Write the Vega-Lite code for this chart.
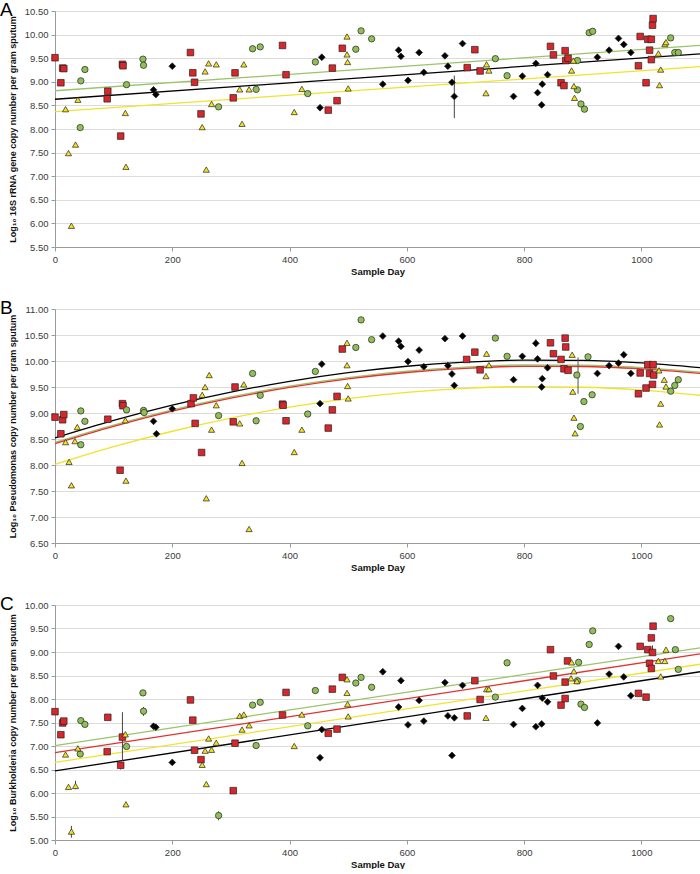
{
  "$schema": "https://vega.github.io/schema/vega-lite/v6.json",
  "padding": {"top": 1, "left": 0, "right": 0, "bottom": 0},
  "background": "white",
  "bounds": "flush",
  "spacing": 62,
  "config": {
    "view": {"stroke": null},
    "font": "Liberation Sans",
    "axis": {
      "labelFont": "Liberation Sans", "labelFontSize": 9.5, "labelColor": "#3a3a3a",
      "titleFont": "Liberation Sans", "titleFontWeight": "bold", "titleColor": "#111111",
      "domainColor": "#9a9a9a", "tickColor": "#9a9a9a", "tickSize": 4, "gridColor": "#dcdcdc",
      "labelOverlap": false, "labelFlush": false
    },
    "title": {"font": "Liberation Sans"}
  },
  "datasets": {
    "pts": [
      {"p":"A","s":"black","d":168,"v":8.83},{"p":"A","s":"black","d":172,"v":8.73},{"p":"A","s":"black","d":200,"v":9.33},{"p":"A","s":"black","d":452,"v":8.45},{"p":"A","s":"black","d":455,"v":9.52},{"p":"A","s":"black","d":559,"v":8.95},{"p":"A","s":"black","d":586,"v":9.67},{"p":"A","s":"black","d":590,"v":9.54},{"p":"A","s":"black","d":602,"v":9.03},{"p":"A","s":"black","d":621,"v":9.62},{"p":"A","s":"black","d":629,"v":9.2},{"p":"A","s":"black","d":665,"v":9.55},{"p":"A","s":"black","d":670,"v":9.33},{"p":"A","s":"black","d":677,"v":8.99},{"p":"A","s":"black","d":681,"v":8.69},{"p":"A","s":"black","d":695,"v":9.81},{"p":"A","s":"black","d":782,"v":8.69},{"p":"A","s":"black","d":797,"v":9.12},{"p":"A","s":"black","d":820,"v":9.39},{"p":"A","s":"black","d":823,"v":8.77},{"p":"A","s":"black","d":831,"v":8.95},{"p":"A","s":"black","d":830,"v":8.51},{"p":"A","s":"black","d":840,"v":9.15},{"p":"A","s":"black","d":925,"v":9.52},{"p":"A","s":"black","d":945,"v":9.67},{"p":"A","s":"black","d":961,"v":9.92},{"p":"A","s":"black","d":970,"v":9.79},{"p":"A","s":"black","d":982,"v":9.62},
      {"p":"A","s":"red","d":0,"v":9.51},{"p":"A","s":"red","d":10,"v":8.98},{"p":"A","s":"red","d":13,"v":9.29},{"p":"A","s":"red","d":15,"v":9.28},{"p":"A","s":"red","d":89,"v":8.64},{"p":"A","s":"red","d":90,"v":8.8},{"p":"A","s":"red","d":112,"v":7.85},{"p":"A","s":"red","d":115,"v":9.37},{"p":"A","s":"red","d":116,"v":9.34},{"p":"A","s":"red","d":231,"v":9.62},{"p":"A","s":"red","d":235,"v":9.19},{"p":"A","s":"red","d":238,"v":8.99},{"p":"A","s":"red","d":249,"v":8.32},{"p":"A","s":"red","d":304,"v":8.66},{"p":"A","s":"red","d":307,"v":9.19},{"p":"A","s":"red","d":388,"v":9.77},{"p":"A","s":"red","d":394,"v":9.15},{"p":"A","s":"red","d":466,"v":8.4},{"p":"A","s":"red","d":473,"v":9.29},{"p":"A","s":"red","d":481,"v":8.6},{"p":"A","s":"red","d":490,"v":9.71},{"p":"A","s":"red","d":703,"v":9.3},{"p":"A","s":"red","d":716,"v":9.68},{"p":"A","s":"red","d":725,"v":9.23},{"p":"A","s":"red","d":845,"v":9.75},{"p":"A","s":"red","d":850,"v":9.57},{"p":"A","s":"red","d":863,"v":8.98},{"p":"A","s":"red","d":868,"v":8.92},{"p":"A","s":"red","d":870,"v":9.66},{"p":"A","s":"red","d":871,"v":9.45},{"p":"A","s":"red","d":875,"v":9.5},{"p":"A","s":"red","d":995,"v":9.34},{"p":"A","s":"red","d":998,"v":9.96},{"p":"A","s":"red","d":1008,"v":8.98},{"p":"A","s":"red","d":1011,"v":9.9},{"p":"A","s":"red","d":1014,"v":9.67},{"p":"A","s":"red","d":1017,"v":9.9},{"p":"A","s":"red","d":1017,"v":9.47},{"p":"A","s":"red","d":1019,"v":10.2},{"p":"A","s":"red","d":1020,"v":10.34},
      {"p":"A","s":"green","d":43,"v":8.03},{"p":"A","s":"green","d":44,"v":9.02},{"p":"A","s":"green","d":51,"v":9.26},{"p":"A","s":"green","d":122,"v":8.94},{"p":"A","s":"green","d":150,"v":9.48},{"p":"A","s":"green","d":151,"v":9.35},{"p":"A","s":"green","d":279,"v":8.47},{"p":"A","s":"green","d":337,"v":9.7},{"p":"A","s":"green","d":343,"v":8.84},{"p":"A","s":"green","d":350,"v":9.74},{"p":"A","s":"green","d":431,"v":8.75},{"p":"A","s":"green","d":444,"v":9.42},{"p":"A","s":"green","d":513,"v":9.69},{"p":"A","s":"green","d":522,"v":10.08},{"p":"A","s":"green","d":540,"v":9.91},{"p":"A","s":"green","d":751,"v":9.49},{"p":"A","s":"green","d":771,"v":9.13},{"p":"A","s":"green","d":891,"v":9.45},{"p":"A","s":"green","d":891,"v":8.83},{"p":"A","s":"green","d":897,"v":8.53},{"p":"A","s":"green","d":903,"v":8.42},{"p":"A","s":"green","d":911,"v":10.04},{"p":"A","s":"green","d":917,"v":10.07},{"p":"A","s":"green","d":1050,"v":9.93},{"p":"A","s":"green","d":1057,"v":9.62},{"p":"A","s":"green","d":1063,"v":9.62},
      {"p":"A","s":"yellow","d":18,"v":8.42},{"p":"A","s":"yellow","d":23,"v":7.49},{"p":"A","s":"yellow","d":28,"v":5.95},{"p":"A","s":"yellow","d":35,"v":7.67},{"p":"A","s":"yellow","d":39,"v":8.62},{"p":"A","s":"yellow","d":120,"v":8.34},{"p":"A","s":"yellow","d":121,"v":7.2},{"p":"A","s":"yellow","d":251,"v":8.04},{"p":"A","s":"yellow","d":256,"v":9.22},{"p":"A","s":"yellow","d":258,"v":7.14},{"p":"A","s":"yellow","d":262,"v":9.39},{"p":"A","s":"yellow","d":267,"v":8.53},{"p":"A","s":"yellow","d":275,"v":9.37},{"p":"A","s":"yellow","d":315,"v":8.84},{"p":"A","s":"yellow","d":319,"v":8.11},{"p":"A","s":"yellow","d":322,"v":9.37},{"p":"A","s":"yellow","d":331,"v":8.84},{"p":"A","s":"yellow","d":408,"v":8.36},{"p":"A","s":"yellow","d":421,"v":8.85},{"p":"A","s":"yellow","d":498,"v":9.96},{"p":"A","s":"yellow","d":498,"v":9.58},{"p":"A","s":"yellow","d":499,"v":9.42},{"p":"A","s":"yellow","d":500,"v":8.86},{"p":"A","s":"yellow","d":735,"v":8.76},{"p":"A","s":"yellow","d":736,"v":9.37},{"p":"A","s":"yellow","d":740,"v":9.24},{"p":"A","s":"yellow","d":881,"v":9.24},{"p":"A","s":"yellow","d":884,"v":9.45},{"p":"A","s":"yellow","d":885,"v":8.91},{"p":"A","s":"yellow","d":886,"v":8.66},{"p":"A","s":"yellow","d":1029,"v":9.6},{"p":"A","s":"yellow","d":1031,"v":8.93},{"p":"A","s":"yellow","d":1033,"v":9.26},{"p":"A","s":"yellow","d":1040,"v":9.8},{"p":"A","s":"yellow","d":1042,"v":9.84},

      {"p":"B","s":"black","d":168,"v":8.84},{"p":"B","s":"black","d":173,"v":8.6},{"p":"B","s":"black","d":200,"v":9.08},{"p":"B","s":"black","d":452,"v":9.18},{"p":"B","s":"black","d":455,"v":9.94},{"p":"B","s":"black","d":559,"v":10.48},{"p":"B","s":"black","d":586,"v":10.38},{"p":"B","s":"black","d":590,"v":10.28},{"p":"B","s":"black","d":602,"v":9.99},{"p":"B","s":"black","d":621,"v":10.21},{"p":"B","s":"black","d":629,"v":9.89},{"p":"B","s":"black","d":665,"v":10.43},{"p":"B","s":"black","d":670,"v":9.91},{"p":"B","s":"black","d":677,"v":9.75},{"p":"B","s":"black","d":681,"v":9.53},{"p":"B","s":"black","d":695,"v":10.48},{"p":"B","s":"black","d":782,"v":9.64},{"p":"B","s":"black","d":797,"v":10.09},{"p":"B","s":"black","d":820,"v":10.34},{"p":"B","s":"black","d":823,"v":10.04},{"p":"B","s":"black","d":830,"v":9.5},{"p":"B","s":"black","d":831,"v":9.66},{"p":"B","s":"black","d":840,"v":9.87},{"p":"B","s":"black","d":925,"v":9.76},{"p":"B","s":"black","d":945,"v":9.91},{"p":"B","s":"black","d":961,"v":9.96},{"p":"B","s":"black","d":970,"v":10.12},{"p":"B","s":"black","d":982,"v":9.76},
      {"p":"B","s":"red","d":0,"v":8.92},{"p":"B","s":"red","d":10,"v":8.6},{"p":"B","s":"red","d":13,"v":8.87},{"p":"B","s":"red","d":15,"v":8.97},{"p":"B","s":"red","d":90,"v":8.88},{"p":"B","s":"red","d":111,"v":7.9},{"p":"B","s":"red","d":115,"v":9.18},{"p":"B","s":"red","d":116,"v":9.14},{"p":"B","s":"red","d":232,"v":9.18},{"p":"B","s":"red","d":236,"v":9.29},{"p":"B","s":"red","d":239,"v":8.8},{"p":"B","s":"red","d":250,"v":8.24},{"p":"B","s":"red","d":304,"v":8.83},{"p":"B","s":"red","d":307,"v":9.5},{"p":"B","s":"red","d":388,"v":9.17},{"p":"B","s":"red","d":389,"v":9.15},{"p":"B","s":"red","d":394,"v":8.85},{"p":"B","s":"red","d":466,"v":8.71},{"p":"B","s":"red","d":473,"v":9.06},{"p":"B","s":"red","d":481,"v":9.32},{"p":"B","s":"red","d":490,"v":10.23},{"p":"B","s":"red","d":702,"v":10.03},{"p":"B","s":"red","d":716,"v":10.17},{"p":"B","s":"red","d":725,"v":9.83},{"p":"B","s":"red","d":845,"v":10.35},{"p":"B","s":"red","d":850,"v":10.14},{"p":"B","s":"red","d":863,"v":10.03},{"p":"B","s":"red","d":868,"v":9.85},{"p":"B","s":"red","d":870,"v":10.44},{"p":"B","s":"red","d":871,"v":10.27},{"p":"B","s":"red","d":875,"v":9.82},{"p":"B","s":"red","d":995,"v":9.37},{"p":"B","s":"red","d":998,"v":9.77},{"p":"B","s":"red","d":1008,"v":9.48},{"p":"B","s":"red","d":1011,"v":9.93},{"p":"B","s":"red","d":1014,"v":9.76},{"p":"B","s":"red","d":1019,"v":9.55},{"p":"B","s":"red","d":1020,"v":9.93},{"p":"B","s":"red","d":1021,"v":9.73},
      {"p":"B","s":"green","d":44,"v":9.04},{"p":"B","s":"green","d":44,"v":8.39},{"p":"B","s":"green","d":51,"v":8.84},{"p":"B","s":"green","d":122,"v":9.06},{"p":"B","s":"green","d":151,"v":9.05},{"p":"B","s":"green","d":152,"v":9.01},{"p":"B","s":"green","d":279,"v":8.95},{"p":"B","s":"green","d":337,"v":9.76},{"p":"B","s":"green","d":343,"v":8.85},{"p":"B","s":"green","d":350,"v":9.34},{"p":"B","s":"green","d":431,"v":8.98},{"p":"B","s":"green","d":444,"v":9.8},{"p":"B","s":"green","d":513,"v":10.26},{"p":"B","s":"green","d":522,"v":10.79},{"p":"B","s":"green","d":540,"v":10.41},{"p":"B","s":"green","d":751,"v":10.44},{"p":"B","s":"green","d":771,"v":10.09},{"p":"B","s":"green","d":890,"v":9.73},{"p":"B","s":"green","d":896,"v":8.74},{"p":"B","s":"green","d":902,"v":9.22},{"p":"B","s":"green","d":909,"v":10.08},{"p":"B","s":"green","d":916,"v":9.35},{"p":"B","s":"green","d":1050,"v":9.42},{"p":"B","s":"green","d":1057,"v":9.53},{"p":"B","s":"green","d":1063,"v":9.64},
      {"p":"B","s":"yellow","d":18,"v":8.44},{"p":"B","s":"yellow","d":24,"v":8.06},{"p":"B","s":"yellow","d":28,"v":7.61},{"p":"B","s":"yellow","d":34,"v":8.46},{"p":"B","s":"yellow","d":38,"v":8.73},{"p":"B","s":"yellow","d":120,"v":8.86},{"p":"B","s":"yellow","d":121,"v":7.7},{"p":"B","s":"yellow","d":251,"v":9.35},{"p":"B","s":"yellow","d":256,"v":9.5},{"p":"B","s":"yellow","d":258,"v":7.36},{"p":"B","s":"yellow","d":263,"v":9.73},{"p":"B","s":"yellow","d":267,"v":8.68},{"p":"B","s":"yellow","d":275,"v":9.15},{"p":"B","s":"yellow","d":315,"v":8.8},{"p":"B","s":"yellow","d":319,"v":8.04},{"p":"B","s":"yellow","d":322,"v":9.55},{"p":"B","s":"yellow","d":331,"v":6.77},{"p":"B","s":"yellow","d":408,"v":8.25},{"p":"B","s":"yellow","d":421,"v":8.68},{"p":"B","s":"yellow","d":498,"v":10.35},{"p":"B","s":"yellow","d":498,"v":9.92},{"p":"B","s":"yellow","d":499,"v":9.52},{"p":"B","s":"yellow","d":500,"v":9.28},{"p":"B","s":"yellow","d":735,"v":9.71},{"p":"B","s":"yellow","d":736,"v":10.14},{"p":"B","s":"yellow","d":740,"v":9.92},{"p":"B","s":"yellow","d":882,"v":10.12},{"p":"B","s":"yellow","d":883,"v":9.41},{"p":"B","s":"yellow","d":885,"v":8.91},{"p":"B","s":"yellow","d":887,"v":8.61},{"p":"B","s":"yellow","d":1030,"v":9.82},{"p":"B","s":"yellow","d":1031,"v":8.78},{"p":"B","s":"yellow","d":1033,"v":9.18},{"p":"B","s":"yellow","d":1039,"v":9.64},{"p":"B","s":"yellow","d":1042,"v":9.51},

      {"p":"C","s":"black","d":168,"v":7.42},{"p":"C","s":"black","d":172,"v":7.4},{"p":"C","s":"black","d":200,"v":6.65},{"p":"C","s":"black","d":452,"v":6.75},{"p":"C","s":"black","d":455,"v":7.35},{"p":"C","s":"black","d":559,"v":8.58},{"p":"C","s":"black","d":586,"v":7.83},{"p":"C","s":"black","d":590,"v":8.39},{"p":"C","s":"black","d":602,"v":7.45},{"p":"C","s":"black","d":621,"v":7.97},{"p":"C","s":"black","d":629,"v":7.53},{"p":"C","s":"black","d":665,"v":8.35},{"p":"C","s":"black","d":670,"v":7.64},{"p":"C","s":"black","d":677,"v":6.8},{"p":"C","s":"black","d":681,"v":7.6},{"p":"C","s":"black","d":695,"v":8.29},{"p":"C","s":"black","d":782,"v":7.46},{"p":"C","s":"black","d":797,"v":7.8},{"p":"C","s":"black","d":820,"v":7.41},{"p":"C","s":"black","d":823,"v":8.29},{"p":"C","s":"black","d":830,"v":7.47},{"p":"C","s":"black","d":831,"v":8.02},{"p":"C","s":"black","d":840,"v":7.94},{"p":"C","s":"black","d":925,"v":7.49},{"p":"C","s":"black","d":945,"v":8.53},{"p":"C","s":"black","d":961,"v":9.12},{"p":"C","s":"black","d":970,"v":8.47},{"p":"C","s":"black","d":982,"v":8.07},
      {"p":"C","s":"red","d":0,"v":7.73},{"p":"C","s":"red","d":10,"v":7.24},{"p":"C","s":"red","d":13,"v":7.49},{"p":"C","s":"red","d":15,"v":7.53},{"p":"C","s":"red","d":89,"v":6.88},{"p":"C","s":"red","d":90,"v":7.61},{"p":"C","s":"red","d":112,"v":6.59},{"p":"C","s":"red","d":115,"v":7.19},{"p":"C","s":"red","d":231,"v":7.98},{"p":"C","s":"red","d":235,"v":7.55},{"p":"C","s":"red","d":238,"v":6.91},{"p":"C","s":"red","d":249,"v":6.71},{"p":"C","s":"red","d":304,"v":6.05},{"p":"C","s":"red","d":307,"v":7.06},{"p":"C","s":"red","d":388,"v":7.66},{"p":"C","s":"red","d":394,"v":8.14},{"p":"C","s":"red","d":466,"v":7.27},{"p":"C","s":"red","d":473,"v":8.21},{"p":"C","s":"red","d":481,"v":7.36},{"p":"C","s":"red","d":490,"v":8.46},{"p":"C","s":"red","d":703,"v":7.64},{"p":"C","s":"red","d":716,"v":8.39},{"p":"C","s":"red","d":725,"v":7.99},{"p":"C","s":"red","d":845,"v":9.05},{"p":"C","s":"red","d":850,"v":8.49},{"p":"C","s":"red","d":863,"v":7.87},{"p":"C","s":"red","d":870,"v":8.01},{"p":"C","s":"red","d":870,"v":8.36},{"p":"C","s":"red","d":874,"v":8.81},{"p":"C","s":"red","d":995,"v":8.12},{"p":"C","s":"red","d":998,"v":9.12},{"p":"C","s":"red","d":1008,"v":8.04},{"p":"C","s":"red","d":1011,"v":9.05},{"p":"C","s":"red","d":1014,"v":8.76},{"p":"C","s":"red","d":1017,"v":9.3},{"p":"C","s":"red","d":1017,"v":8.65},{"p":"C","s":"red","d":1019,"v":8.99},{"p":"C","s":"red","d":1020,"v":9.55},
      {"p":"C","s":"green","d":43,"v":6.83},{"p":"C","s":"green","d":44,"v":7.54},{"p":"C","s":"green","d":51,"v":7.46},{"p":"C","s":"green","d":122,"v":6.99},{"p":"C","s":"green","d":150,"v":8.13},{"p":"C","s":"green","d":151,"v":7.74},{"p":"C","s":"green","d":279,"v":5.52},{"p":"C","s":"green","d":337,"v":7.87},{"p":"C","s":"green","d":343,"v":7.01},{"p":"C","s":"green","d":350,"v":7.93},{"p":"C","s":"green","d":431,"v":7.43},{"p":"C","s":"green","d":444,"v":8.18},{"p":"C","s":"green","d":513,"v":8.34},{"p":"C","s":"green","d":522,"v":8.46},{"p":"C","s":"green","d":540,"v":8.25},{"p":"C","s":"green","d":751,"v":8.04},{"p":"C","s":"green","d":771,"v":8.77},{"p":"C","s":"green","d":891,"v":8.39},{"p":"C","s":"green","d":893,"v":8.78},{"p":"C","s":"green","d":897,"v":7.89},{"p":"C","s":"green","d":903,"v":7.82},{"p":"C","s":"green","d":911,"v":9.16},{"p":"C","s":"green","d":917,"v":9.45},{"p":"C","s":"green","d":1050,"v":9.71},{"p":"C","s":"green","d":1058,"v":9.05},{"p":"C","s":"green","d":1063,"v":8.63},
      {"p":"C","s":"yellow","d":18,"v":6.82},{"p":"C","s":"yellow","d":23,"v":6.13},{"p":"C","s":"yellow","d":28,"v":5.18},{"p":"C","s":"yellow","d":35,"v":6.15},{"p":"C","s":"yellow","d":39,"v":6.95},{"p":"C","s":"yellow","d":120,"v":7.25},{"p":"C","s":"yellow","d":121,"v":5.76},{"p":"C","s":"yellow","d":251,"v":6.6},{"p":"C","s":"yellow","d":256,"v":6.9},{"p":"C","s":"yellow","d":258,"v":6.19},{"p":"C","s":"yellow","d":262,"v":7.16},{"p":"C","s":"yellow","d":267,"v":6.92},{"p":"C","s":"yellow","d":275,"v":7.07},{"p":"C","s":"yellow","d":315,"v":7.64},{"p":"C","s":"yellow","d":319,"v":7.35},{"p":"C","s":"yellow","d":322,"v":7.67},{"p":"C","s":"yellow","d":331,"v":7.44},{"p":"C","s":"yellow","d":408,"v":7.0},{"p":"C","s":"yellow","d":421,"v":7.67},{"p":"C","s":"yellow","d":498,"v":8.42},{"p":"C","s":"yellow","d":498,"v":8.13},{"p":"C","s":"yellow","d":499,"v":7.89},{"p":"C","s":"yellow","d":500,"v":7.63},{"p":"C","s":"yellow","d":735,"v":7.6},{"p":"C","s":"yellow","d":736,"v":8.21},{"p":"C","s":"yellow","d":740,"v":8.21},{"p":"C","s":"yellow","d":880,"v":8.44},{"p":"C","s":"yellow","d":881,"v":8.78},{"p":"C","s":"yellow","d":885,"v":8.59},{"p":"C","s":"yellow","d":890,"v":8.38},{"p":"C","s":"yellow","d":1029,"v":8.81},{"p":"C","s":"yellow","d":1033,"v":8.48},{"p":"C","s":"yellow","d":1040,"v":8.81},{"p":"C","s":"yellow","d":1042,"v":9.05}
    ],
    "lines": [
      {"p":"A","s":"black","d":0,"v":8.63},{"p":"A","s":"black","d":1100,"v":9.59},
      {"p":"A","s":"green","d":0,"v":8.81},{"p":"A","s":"green","d":1100,"v":9.77},
      {"p":"A","s":"yellow","d":0,"v":8.37},{"p":"A","s":"yellow","d":1100,"v":9.32},
      {"p":"B","s":"black","d":0,"v":8.52},{"p":"B","s":"black","d":100,"v":8.857},{"p":"B","s":"black","d":200,"v":9.151},{"p":"B","s":"black","d":300,"v":9.402},{"p":"B","s":"black","d":400,"v":9.61},{"p":"B","s":"black","d":500,"v":9.776},{"p":"B","s":"black","d":600,"v":9.899},{"p":"B","s":"black","d":700,"v":9.978},{"p":"B","s":"black","d":800,"v":10.016},{"p":"B","s":"black","d":900,"v":10.011},{"p":"B","s":"black","d":1000,"v":9.962},{"p":"B","s":"black","d":1100,"v":9.871},
      {"p":"B","s":"green","d":0,"v":8.435},{"p":"B","s":"green","d":100,"v":8.768},{"p":"B","s":"green","d":200,"v":9.06},{"p":"B","s":"green","d":300,"v":9.309},{"p":"B","s":"green","d":400,"v":9.516},{"p":"B","s":"green","d":500,"v":9.681},{"p":"B","s":"green","d":600,"v":9.804},{"p":"B","s":"green","d":700,"v":9.884},{"p":"B","s":"green","d":800,"v":9.923},{"p":"B","s":"green","d":900,"v":9.919},{"p":"B","s":"green","d":1000,"v":9.873},{"p":"B","s":"green","d":1100,"v":9.785},
      {"p":"B","s":"red","d":0,"v":8.41},{"p":"B","s":"red","d":100,"v":8.743},{"p":"B","s":"red","d":200,"v":9.035},{"p":"B","s":"red","d":300,"v":9.284},{"p":"B","s":"red","d":400,"v":9.491},{"p":"B","s":"red","d":500,"v":9.656},{"p":"B","s":"red","d":600,"v":9.779},{"p":"B","s":"red","d":700,"v":9.859},{"p":"B","s":"red","d":800,"v":9.898},{"p":"B","s":"red","d":900,"v":9.894},{"p":"B","s":"red","d":1000,"v":9.848},{"p":"B","s":"red","d":1100,"v":9.76},
      {"p":"B","s":"yellow","d":0,"v":8.01},{"p":"B","s":"yellow","d":100,"v":8.351},{"p":"B","s":"yellow","d":200,"v":8.649},{"p":"B","s":"yellow","d":300,"v":8.902},{"p":"B","s":"yellow","d":400,"v":9.111},{"p":"B","s":"yellow","d":500,"v":9.276},{"p":"B","s":"yellow","d":600,"v":9.397},{"p":"B","s":"yellow","d":700,"v":9.474},{"p":"B","s":"yellow","d":800,"v":9.507},{"p":"B","s":"yellow","d":900,"v":9.495},{"p":"B","s":"yellow","d":1000,"v":9.44},{"p":"B","s":"yellow","d":1100,"v":9.341},
      {"p":"C","s":"black","d":0,"v":6.47},{"p":"C","s":"black","d":1100,"v":8.58},
      {"p":"C","s":"green","d":0,"v":7.01},{"p":"C","s":"green","d":1100,"v":9.09},
      {"p":"C","s":"red","d":0,"v":6.86},{"p":"C","s":"red","d":1100,"v":8.96},
      {"p":"C","s":"yellow","d":0,"v":6.65},{"p":"C","s":"yellow","d":1100,"v":8.74}
    ],
    "err": [
      {"p":"A","d":681,"v":8.23,"v2":9.13},
      {"p":"B","d":820,"v":10.27,"v2":10.42},
      {"p":"B","d":892,"v":9.37,"v2":10.07},
      {"p":"C","d":115,"v":6.68,"v2":7.72},
      {"p":"C","d":112,"v":6.5,"v2":6.66},
      {"p":"C","d":28,"v":5.05,"v2":5.3},
      {"p":"C","d":35,"v":6.08,"v2":6.26},
      {"p":"C","d":151,"v":7.64,"v2":7.83},
      {"p":"C","d":279,"v":5.42,"v2":5.61},
      {"p":"C","d":1019,"v":8.95,"v2":9.14}
    ]
  },
  "vconcat": [
    {
      "width": 645, "height": 236,
      "title": {"text": "A", "anchor": "start", "frame": "bounds", "fontSize": 19, "fontWeight": "normal", "offset": -14, "dx": -8},
      "encoding": {
        "x": {"field": "d", "type": "quantitative", "scale": {"domain": [0, 1100], "nice": false},
              "axis": {"values": [0,200,400,600,800,1000], "format": "d", "grid": false, "title": "Sample Day", "titleFontSize": 9.5, "titlePadding": 3, "labelPadding": 3}},
        "y": {"field": "v", "type": "quantitative", "scale": {"domain": [5.5, 10.5], "nice": false, "zero": false},
              "axis": {"values": [5.5,6,6.5,7,7.5,8,8.5,9,9.5,10,10.5], "format": ".2f", "labelOverlap": false, "title": "Log₁₀ 16S rRNA gene copy number per gram sputum", "titleFontSize": 9, "minExtent": 32, "maxExtent": 32, "titlePadding": 6, "labelPadding": 3}}
      },
      "layer": [
        {"data": {"name": "lines"}, "transform": [{"filter": "datum.p === 'A'"}],
         "mark": {"type": "line", "strokeWidth": 1.3},
         "encoding": {
           "color": {"field": "s", "type": "nominal", "scale": {"domain": ["black","red","green","yellow"], "range": ["#000000","#e2322b","#9ac46a","#f0e32c"]}, "legend": null},
           "detail": {"field": "s"}
         }},
        {"data": {"name": "err"}, "transform": [{"filter": "datum.p === 'A'"}],
         "mark": {"type": "rule", "color": "#444444", "strokeWidth": 1},
         "encoding": {"y2": {"field": "v2"}}},
        {"data": {"name": "pts"}, "transform": [{"filter": "datum.p === 'A'"}],
         "mark": {"type": "point", "filled": true, "opacity": 1, "stroke": "#222222", "strokeWidth": 0.7},
         "encoding": {
           "shape": {"field": "s", "type": "nominal", "scale": {"domain": ["black","red","green","yellow"], "range": ["diamond","square","circle","triangle-up"]}, "legend": null},
           "fill": {"field": "s", "type": "nominal", "scale": {"domain": ["black","red","green","yellow"], "range": ["#000000","#d9262c","#8fc057","#f4e31e"]}, "legend": null},
           "size": {"field": "s", "type": "nominal", "scale": {"domain": ["black","red","green","yellow"], "range": [46, 38, 64, 62]}, "legend": null}
         }}
      ],
      "resolve": {"scale": {"color": "independent", "fill": "independent"}}
    },
    {
      "width": 645, "height": 234,
      "title": {"text": "B", "anchor": "start", "frame": "bounds", "fontSize": 19, "fontWeight": "normal", "offset": -14, "dx": -8},
      "encoding": {
        "x": {"field": "d", "type": "quantitative", "scale": {"domain": [0, 1100], "nice": false},
              "axis": {"values": [0,200,400,600,800,1000], "format": "d", "grid": false, "title": "Sample Day", "titleFontSize": 9.5, "titlePadding": 3, "labelPadding": 3}},
        "y": {"field": "v", "type": "quantitative", "scale": {"domain": [6.5, 11], "nice": false, "zero": false},
              "axis": {"values": [6.5,7,7.5,8,8.5,9,9.5,10,10.5,11], "format": ".2f", "labelOverlap": false, "title": "Log₁₀ Pseudomonas copy number per gram sputum", "titleFontSize": 9, "minExtent": 32, "maxExtent": 32, "titlePadding": 6, "labelPadding": 3}}
      },
      "layer": [
        {"data": {"name": "lines"}, "transform": [{"filter": "datum.p === 'B'"}],
         "mark": {"type": "line", "strokeWidth": 1.3, "interpolate": "monotone"},
         "encoding": {
           "color": {"field": "s", "type": "nominal", "scale": {"domain": ["black","red","green","yellow"], "range": ["#000000","#e2322b","#9ac46a","#f0e32c"]}, "legend": null},
           "detail": {"field": "s"}
         }},
        {"data": {"name": "err"}, "transform": [{"filter": "datum.p === 'B'"}],
         "mark": {"type": "rule", "color": "#555555", "strokeWidth": 1},
         "encoding": {"y2": {"field": "v2"}}},
        {"data": {"name": "pts"}, "transform": [{"filter": "datum.p === 'B'"}],
         "mark": {"type": "point", "filled": true, "opacity": 1, "stroke": "#222222", "strokeWidth": 0.7},
         "encoding": {
           "shape": {"field": "s", "type": "nominal", "scale": {"domain": ["black","red","green","yellow"], "range": ["diamond","square","circle","triangle-up"]}, "legend": null},
           "fill": {"field": "s", "type": "nominal", "scale": {"domain": ["black","red","green","yellow"], "range": ["#000000","#d9262c","#8fc057","#f4e31e"]}, "legend": null},
           "size": {"field": "s", "type": "nominal", "scale": {"domain": ["black","red","green","yellow"], "range": [46, 38, 64, 62]}, "legend": null}
         }}
      ],
      "resolve": {"scale": {"color": "independent", "fill": "independent"}}
    },
    {
      "width": 645, "height": 235,
      "title": {"text": "C", "anchor": "start", "frame": "bounds", "fontSize": 19, "fontWeight": "normal", "offset": -14, "dx": -8},
      "encoding": {
        "x": {"field": "d", "type": "quantitative", "scale": {"domain": [0, 1100], "nice": false},
              "axis": {"values": [0,200,400,600,800,1000], "format": "d", "grid": false, "title": "Sample Day", "titleFontSize": 9.5, "titlePadding": 3, "labelPadding": 3}},
        "y": {"field": "v", "type": "quantitative", "scale": {"domain": [5, 10], "nice": false, "zero": false},
              "axis": {"values": [5,5.5,6,6.5,7,7.5,8,8.5,9,9.5,10], "format": ".2f", "labelOverlap": false, "title": "Log₁₀ Burkholderia copy number per gram sputum", "titleFontSize": 9, "minExtent": 32, "maxExtent": 32, "titlePadding": 6, "labelPadding": 3}}
      },
      "layer": [
        {"data": {"name": "lines"}, "transform": [{"filter": "datum.p === 'C'"}],
         "mark": {"type": "line", "strokeWidth": 1.3},
         "encoding": {
           "color": {"field": "s", "type": "nominal", "scale": {"domain": ["black","red","green","yellow"], "range": ["#000000","#e2322b","#9ac46a","#f0e32c"]}, "legend": null},
           "detail": {"field": "s"}
         }},
        {"data": {"name": "err"}, "transform": [{"filter": "datum.p === 'C'"}],
         "mark": {"type": "rule", "color": "#444444", "strokeWidth": 1},
         "encoding": {"y2": {"field": "v2"}}},
        {"data": {"name": "pts"}, "transform": [{"filter": "datum.p === 'C'"}],
         "mark": {"type": "point", "filled": true, "opacity": 1, "stroke": "#222222", "strokeWidth": 0.7},
         "encoding": {
           "shape": {"field": "s", "type": "nominal", "scale": {"domain": ["black","red","green","yellow"], "range": ["diamond","square","circle","triangle-up"]}, "legend": null},
           "fill": {"field": "s", "type": "nominal", "scale": {"domain": ["black","red","green","yellow"], "range": ["#000000","#d9262c","#8fc057","#f4e31e"]}, "legend": null},
           "size": {"field": "s", "type": "nominal", "scale": {"domain": ["black","red","green","yellow"], "range": [46, 38, 64, 62]}, "legend": null}
         }}
      ],
      "resolve": {"scale": {"color": "independent", "fill": "independent"}}
    }
  ]
}
